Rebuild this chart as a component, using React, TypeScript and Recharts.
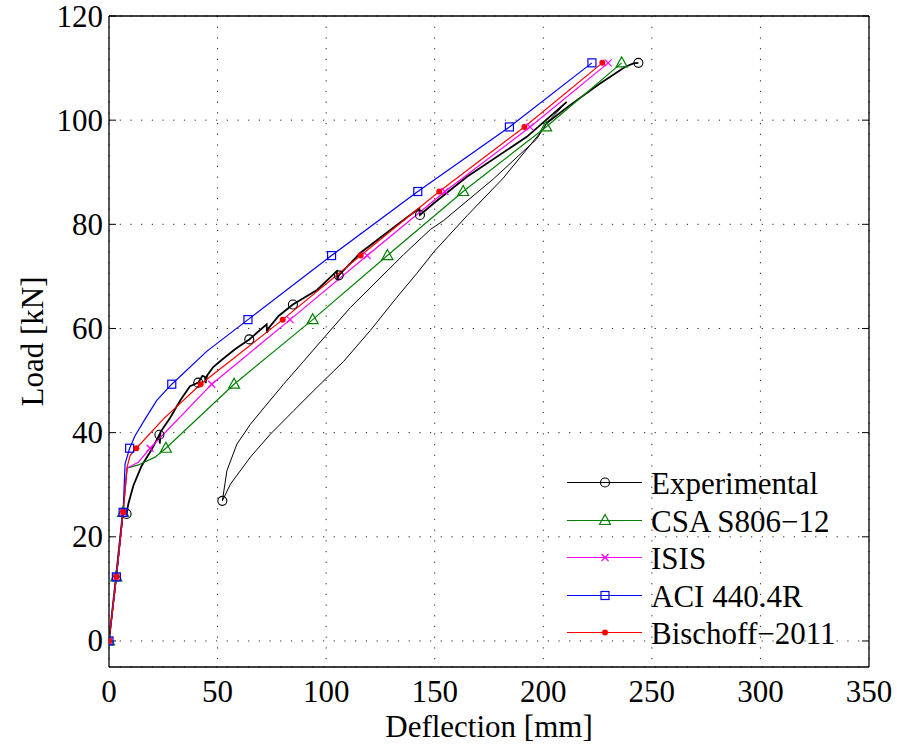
import React from "react";
import { LineChart, Line, XAxis, YAxis, CartesianGrid, Legend } from "recharts";

const FONT = '"Liberation Serif", "Times New Roman", serif';

const xTicks = [0, 50, 100, 150, 200, 250, 300, 350];
const yTicks = [0, 20, 40, 60, 80, 100, 120];

// [deflection mm, load kN, marker shown (1) or not (0)]
type Row = [number, number, number?];

const expEnvelope: Row[] = [
  [0, 0], [3.3, 12.6], [6.4, 24.8], [7.2, 25.0], [8.1, 24.4, 1], [8.9, 26.3], [11.2, 29.8],
  [15, 33.6], [19.7, 36.8], [23.2, 39.6, 1], [23.4, 37.9], [23.7, 40.1], [28.1, 42.8],
  [33, 46.3], [37.3, 48.9], [41.1, 49.6, 1], [43, 50.9], [44.2, 50.7], [44.5, 49.5],
  [45.2, 51.0], [48, 52.6], [52, 54.0], [58, 56.0], [64.6, 57.9, 1], [72.6, 60.8],
  [72.8, 59.2], [73.4, 60.0], [78.1, 62.4], [84.7, 64.6, 1], [95.8, 67.4], [104.9, 71.0],
  [105.2, 69.3], [105.8, 70.2, 1], [115.7, 74.5], [132.6, 79.9], [142.9, 83.1],
  [143.2, 81.8, 1], [150, 84.2], [164.7, 89.1], [192.4, 96.8], [210.8, 103.5],
];

const expLoop: Row[] = [
  [210.8, 103.5], [201.5, 99.4], [200, 98.3], [181.6, 88.9], [165, 81.7], [150, 74.9],
  [141.8, 70.6], [132.6, 66], [120.3, 59.6], [108.1, 53.7], [95.8, 48.7], [85, 44.2],
  [74.3, 39.7], [65.1, 35.3], [55.9, 30.1], [52.2, 26.9, 1], [54.3, 32.7], [58.9, 37.8],
  [65.1, 41.6], [72.8, 45.5], [80.4, 49.3], [89.6, 53.7], [100.4, 58.9], [111.1, 64.0],
  [123.4, 69.1], [135.7, 74.2], [148, 79.0], [154, 80.7], [177, 88.7], [197, 96.4],
  [201.5, 99.4],
];

const expFinal: Row[] = [
  [201.5, 99.4], [212, 102.8], [226, 107], [237.6, 110.2], [241.5, 110.9], [243.8, 111.0, 1],
];

const csaPts: Row[] = [
  [0, 0, 1], [3.4, 12.3, 1], [6.5, 24.7, 1], [8.3, 33.2], [13.5, 33.8], [21.2, 35.3],
  [26.2, 37.0, 1], [57.6, 49.3, 1], [93.8, 61.7, 1], [128.2, 74.0, 1], [163.1, 86.3, 1],
  [201.3, 98.7, 1], [236.1, 111, 1],
];

const isisPts: Row[] = [
  [0, 0, 1], [3.4, 12.3, 1], [6.5, 24.7, 1], [8.3, 33.2], [13.5, 34.3], [18.9, 37.0, 1],
  [47.3, 49.3, 1], [83.4, 61.7, 1], [118.9, 74.0, 1], [154.7, 86.3, 1], [193.9, 98.7, 1],
  [229.9, 111, 1],
];

const aciPts: Row[] = [
  [0, 0, 1], [3.4, 12.3, 1], [6.5, 24.7, 1], [7.4, 34.0], [9.5, 37.0, 1], [12, 39.4],
  [16.6, 42.6], [22, 46.2], [28.9, 49.3, 1], [45, 55.6], [64, 61.7, 1], [102.5, 74, 1],
  [142.2, 86.3, 1], [184.4, 98.7, 1], [222.4, 111, 1],
];

const bischoffPts: Row[] = [
  [0, 0, 1], [3.4, 12.3, 1], [6.5, 24.7, 1], [8.4, 33.5], [9.7, 35.6], [12.6, 37.0, 1],
  [25, 42.6], [42.2, 49.3, 1], [80.0, 61.7, 1], [115.9, 74.0, 1], [152.1, 86.3, 1],
  [191.3, 98.7, 1], [227.2, 111, 1],
];

const toData = (rows: Row[]) => rows.map(([x, y, m]) => ({ x, y, m: !!m }));

type Kind = "o" | "^" | "x" | "s" | ".";

const legendItems: { name: string; color: string; kind: Kind }[] = [
  { name: "Experimental", color: "#000000", kind: "o" },
  { name: "CSA S806\u221212", color: "#008000", kind: "^" },
  { name: "ISIS", color: "#FF00FF", kind: "x" },
  { name: "ACI 440.4R", color: "#0000FF", kind: "s" },
  { name: "Bischoff\u22122011", color: "#FF0000", kind: "." },
];

function Marker({ kind, cx, cy, color }: { kind: Kind; cx: number; cy: number; color: string }) {
  switch (kind) {
    case "o":
      return <circle cx={cx} cy={cy} r={4.5} fill="none" stroke={color} strokeWidth={1.1} />;
    case "^":
      return (
        <polygon
          points={`${cx},${cy - 6} ${cx - 5.5},${cy + 4} ${cx + 5.5},${cy + 4}`}
          fill="none"
          stroke={color}
          strokeWidth={1.2}
        />
      );
    case "x":
      return (
        <g stroke={color} strokeWidth={1.2}>
          <line x1={cx - 3.5} y1={cy - 3.5} x2={cx + 3.5} y2={cy + 3.5} />
          <line x1={cx - 3.5} y1={cy + 3.5} x2={cx + 3.5} y2={cy - 3.5} />
        </g>
      );
    case "s":
      return <rect x={cx - 4} y={cy - 4} width={8} height={8} fill="none" stroke={color} strokeWidth={1.2} />;
    default:
      return <circle cx={cx} cy={cy} r={3} fill={color} />;
  }
}

const makeDot = (kind: Kind, color: string) => (props: any) => {
  const { cx, cy, payload, index } = props;
  if (!payload || !payload.m || cx == null || cy == null) return <g key={`n${index}`} />;
  return (
    <g key={`m${index}`}>
      <Marker kind={kind} cx={cx} cy={cy} color={color} />
    </g>
  );
};

function LegendBox() {
  return (
    <svg width={320} height={190} style={{ overflow: "visible" }}>
      {legendItems.map((it, i) => {
        const y = Math.round(22 + i * 37.5) + 0.5;
        return (
          <g key={it.name}>
            <line x1={7} x2={82} y1={y} y2={y} stroke={it.color} strokeWidth={1} />
            <Marker kind={it.kind} cx={45} cy={y} color={it.color} />
            <text x={91} y={y + 11} fontSize={31} fontFamily={FONT} fill="#000">
              {it.name}
            </text>
          </g>
        );
      })}
    </svg>
  );
}

const XTick = (props: any) => {
  const { x, y, payload } = props;
  return (
    <text x={x} y={y + 22} textAnchor="middle" fontSize={31} fontFamily={FONT} fill="#000">
      {payload.value}
    </text>
  );
};

const YTick = (props: any) => {
  const { x, y, payload } = props;
  return (
    <text x={x} y={y + 10.5} textAnchor="end" fontSize={31} fontFamily={FONT} fill="#000">
      {payload.value}
    </text>
  );
};

const YLabel = (props: any) => {
  const vb = props.viewBox || { x: 9, y: 16, height: 651 };
  const x = vb.x + 34;
  const y = vb.y + vb.height / 2;
  return (
    <text x={x} y={y} transform={`rotate(-90 ${x} ${y})`} textAnchor="middle" fontSize={31} fontFamily={FONT} fill="#000">
      Load [kN]
    </text>
  );
};

const XLabel = (props: any) => {
  const vb = props.viewBox || { x: 109, y: 667, width: 760 };
  return (
    <text x={vb.x + vb.width / 2} y={vb.y + 70} textAnchor="middle" fontSize={31} fontFamily={FONT} fill="#000">
      Deflection [mm]
    </text>
  );
};

const noTick = () => <g />;
const axisStroke = { stroke: "#000", strokeWidth: 1.3 };

export default function App() {
  return (
    <div style={{ position: "absolute", left: 0, top: 0, width: 897, height: 747, background: "#fff", fontFamily: FONT }}>
      <LineChart width={897} height={747} margin={{ top: 16, right: 28, bottom: 0, left: 9 }}>
        <CartesianGrid stroke="#222" strokeDasharray="1.2 9.5" strokeWidth={1} />
        <XAxis
          type="number"
          dataKey="x"
          domain={[0, 350]}
          ticks={xTicks}
          interval={0}
          allowDataOverflow
          height={80}
          tickLine={false}
          tickSize={0}
          tickMargin={13}
          axisLine={axisStroke}
          tick={<XTick />}
          label={<XLabel />}
        />
        <XAxis
          xAxisId="top"
          orientation="top"
          mirror
          type="number"
          domain={[0, 350]}
          ticks={xTicks}
          interval={0}
          allowDataOverflow
          tickSize={7}
          tickLine={{ stroke: "#000" }}
          axisLine={axisStroke}
          tick={noTick}
        />
        <XAxis
          xAxisId="bot"
          orientation="bottom"
          mirror
          type="number"
          domain={[0, 350]}
          ticks={xTicks}
          interval={0}
          allowDataOverflow
          tickSize={7}
          tickLine={{ stroke: "#000" }}
          axisLine={false}
          tick={noTick}
        />
        <YAxis
          type="number"
          domain={[-5, 120]}
          ticks={yTicks}
          interval={0}
          allowDataOverflow
          width={100}
          tickLine={false}
          tickSize={0}
          tickMargin={6}
          axisLine={axisStroke}
          tick={<YTick />}
          label={<YLabel />}
        />
        <YAxis
          yAxisId="left2"
          orientation="left"
          mirror
          type="number"
          domain={[-5, 120]}
          ticks={yTicks}
          interval={0}
          allowDataOverflow
          tickSize={7}
          tickLine={{ stroke: "#000" }}
          axisLine={false}
          tick={noTick}
        />
        <YAxis
          yAxisId="right"
          orientation="right"
          mirror
          type="number"
          domain={[-5, 120]}
          ticks={yTicks}
          interval={0}
          allowDataOverflow
          tickSize={7}
          tickLine={{ stroke: "#000" }}
          axisLine={axisStroke}
          tick={noTick}
        />

        <Line data={toData(expLoop)} dataKey="y" name="loop" stroke="#000" strokeWidth={1} dot={makeDot("o", "#000")} activeDot={false} isAnimationActive={false} legendType="none" />
        <Line data={toData(expFinal)} dataKey="y" name="final" stroke="#000" strokeWidth={1.7} dot={makeDot("o", "#000")} activeDot={false} isAnimationActive={false} legendType="none" />
        <Line data={toData(expEnvelope)} dataKey="y" name="Experimental" stroke="#000" strokeWidth={1.8} dot={makeDot("o", "#000")} activeDot={false} isAnimationActive={false} />
        <Line data={toData(csaPts)} dataKey="y" name="CSA S806-12" stroke="#008000" strokeWidth={1.2} dot={makeDot("^", "#008000")} activeDot={false} isAnimationActive={false} />
        <Line data={toData(isisPts)} dataKey="y" name="ISIS" stroke="#FF00FF" strokeWidth={1.2} dot={makeDot("x", "#FF00FF")} activeDot={false} isAnimationActive={false} />
        <Line data={toData(aciPts)} dataKey="y" name="ACI 440.4R" stroke="#0000FF" strokeWidth={1.2} dot={makeDot("s", "#0000FF")} activeDot={false} isAnimationActive={false} />
        <Line data={toData(bischoffPts)} dataKey="y" name="Bischoff-2011" stroke="#FF0000" strokeWidth={1.2} dot={makeDot(".", "#FF0000")} activeDot={false} isAnimationActive={false} />

        <Legend
          layout="horizontal"
          verticalAlign="middle"
          align="center"
          wrapperStyle={{ position: "absolute", left: 560, top: 460, width: 320, height: 190 }}
          content={() => <LegendBox />}
        />
      </LineChart>
    </div>
  );
}
